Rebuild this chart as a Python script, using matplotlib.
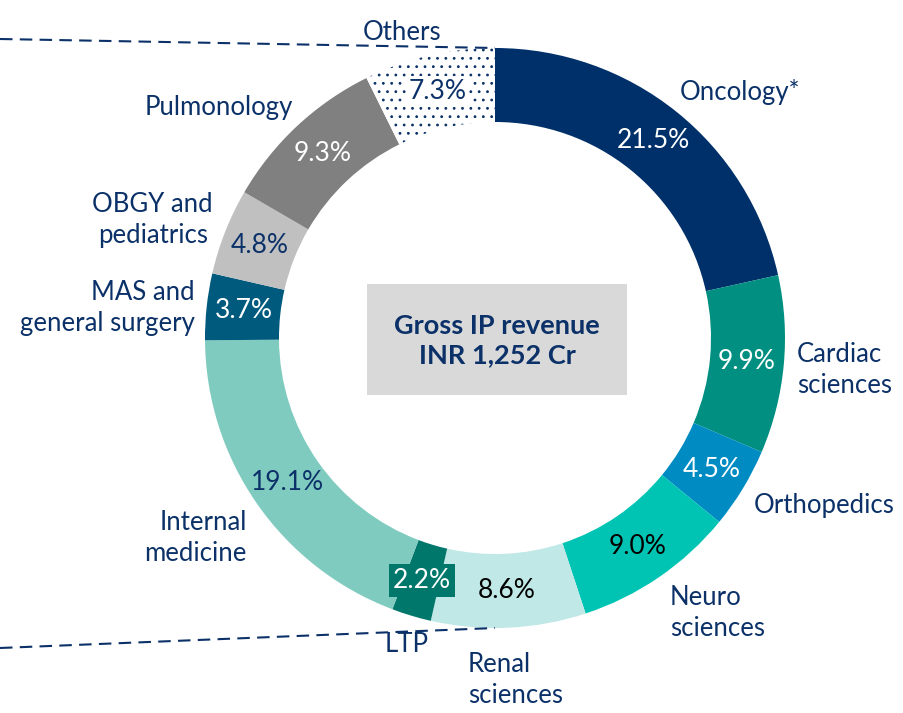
import matplotlib.pyplot as plt
from matplotlib.patches import Rectangle

plt.rcParams["font.family"] = ["Lato", "DejaVu Sans"]
plt.rcParams["hatch.linewidth"] = 0.8

# segment shares (%) going clockwise from the top
categories = ["Oncology*", "Cardiac\nsciences", "Orthopedics", "Neuro\nsciences",
              "Renal\nsciences", "LTP", "Internal\nmedicine", "MAS and\ngeneral surgery",
              "OBGY and\npediatrics", "Pulmonology", "Others"]
shares = [21.5, 9.9, 4.5, 9.0, 8.6, 2.2, 19.1, 3.7, 4.8, 9.3, 7.3]
center_text = "Gross IP revenue\nINR 1,252 Cr"

NAVY = "#0b3168"
colors = ["#00306a", "#008f80", "#008cc3", "#00c4b3", "#bfe8e6", "#00776b",
          "#80cbbf", "#005a7d", "#c0c0c0", "#808080", "white"]
pct_colors = ["white", "white", "white", "black", "black", "white",
              NAVY, "white", NAVY, "white", NAVY]

# label placement in pixels (x, y from top, ha, multialign)
label_pos = [
    (680, 92, "left", "left"),
    (797, 370, "left", "left"),
    (754, 505, "left", "left"),
    (670, 613, "left", "left"),
    (468, 680, "left", "left"),
    (385, 645, "left", "left"),
    (247, 538, "right", "right"),
    (195, 308, "right", "right"),
    (213, 220, "right", "center"),
    (293, 108, "right", "right"),
    (402, 33, "center", "center"),
]

W, H = 904, 713
cx, cy = 495, 338  # pixel centre of ring
R, ring = 290, 74

fig = plt.figure(figsize=(W / 100, H / 100), dpi=100)
ax = fig.add_axes([0, 0, 1, 1])

wedges, _, autotexts = ax.pie(
    shares, colors=colors, startangle=90, counterclock=False,
    center=(cx, H - cy), radius=R, autopct="%.1f%%",
    pctdistance=(R - ring / 2) / R,
    wedgeprops=dict(width=ring, linewidth=0),
    textprops=dict(fontsize=19),
)
# pie() resets the limits, so set them afterwards
ax.set_xlim(0, W)
ax.set_ylim(0, H)
ax.set_aspect("equal")
ax.axis("off")

# dotted "Others" segment
wedges[-1].set_hatch("..")
wedges[-1].set_edgecolor(NAVY)
wedges[-1].set_linewidth(0)

for t, v, c in zip(autotexts, shares, pct_colors):
    t.set_text(f"{v}%")
    t.set_color(c)
# boxed labels
autotexts[5].set_bbox(dict(facecolor=colors[5], edgecolor="none", pad=3))
autotexts[-1].set_bbox(dict(facecolor="white", edgecolor="none", pad=2))

for name, (x, y, ha, ma) in zip(categories, label_pos):
    ax.text(x, H - y, name, ha=ha, va="center", multialignment=ma,
            color=NAVY, fontsize=18.5, linespacing=1.3)

# centre box
ax.add_patch(Rectangle((367, H - 395), 260, 111, facecolor="#d9d9d9", edgecolor="none"))
ax.text(497, H - 341, center_text, ha="center", va="center", color=NAVY,
        fontsize=19.5, fontweight="bold", linespacing=1.25)

# dashed connector lines to the top and bottom of the ring
ax.plot([0, cx], [H - 39, H - (cy - R)], color=NAVY, lw=1.5, dashes=(6, 3.5))
ax.plot([0, cx], [H - 648, H - (cy + R)], color=NAVY, lw=1.5, dashes=(6, 3.5))

fig.savefig("out.png", dpi=100)
